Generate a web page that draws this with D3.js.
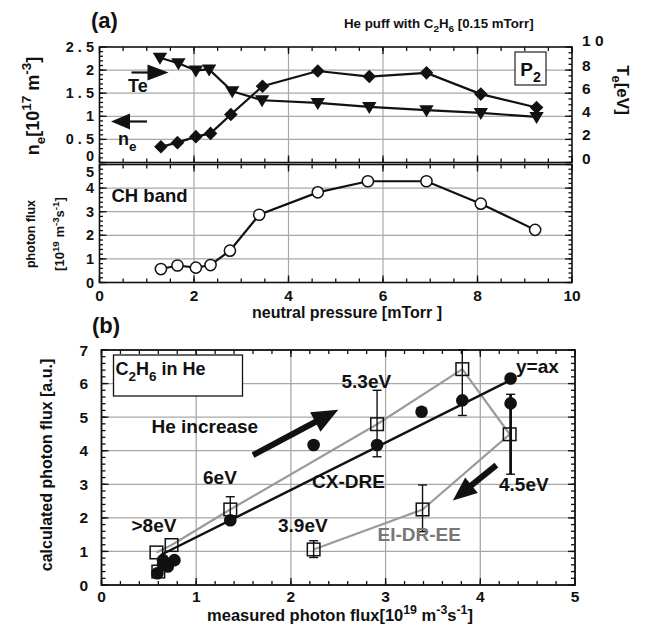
<!DOCTYPE html>
<html>
<head>
<meta charset="utf-8">
<script src="https://cdn.jsdelivr.net/npm/d3@7"></script>
<style>
  html, body { margin: 0; padding: 0; background: #fff; }
  svg { display: block; }
  text { font-family: "Liberation Sans", Arial, Helvetica, sans-serif; font-weight: bold; fill: #111; }
</style>
</head>
<body>
<svg id="chart" width="645" height="625"></svg>
<script>
// ---------------- DATA: panel (a) ----------------
const nePressure = [1.3, 1.65, 2.04, 2.35, 2.78, 3.45, 4.62, 5.71, 6.92, 8.07, 9.25];
const neValues   = [0.34, 0.43, 0.56, 0.63, 1.04, 1.65, 1.98, 1.86, 1.94, 1.48, 1.19];
const tePressure = [1.28, 1.67, 2.04, 2.32, 2.81, 3.44, 4.62, 5.71, 6.92, 8.07, 9.25];
const teValues   = [9.07, 8.6, 7.97, 8.06, 6.16, 5.39, 5.16, 4.81, 4.53, 4.29, 3.95];
const chPressure = [1.3, 1.65, 2.04, 2.35, 2.76, 3.38, 4.62, 5.68, 6.92, 8.07, 9.22];
const chFlux     = [0.57, 0.72, 0.63, 0.74, 1.35, 2.87, 3.82, 4.29, 4.29, 3.34, 2.23];

const xTicksA     = [0, 2, 4, 6, 8, 10];
const neTickVals  = [0, 0.5, 1, 1.5, 2, 2.5];
const neTickText  = ["0", "0 . 5", "1", "1 . 5", "2", "2 . 5"];
const teTickVals  = [0, 2, 4, 6, 8, 10];
const teTickText  = ["0", "2", "4", "6", "8", "1 0"];
const phTickVals  = [0, 1, 2, 3, 4, 5];

// ---------------- DATA: panel (b) ----------------
const cxMeasured = [0.59, 0.65, 0.65, 0.70, 0.77, 1.36, 2.24, 2.91, 3.38, 3.81, 4.32, 4.32];
const cxCalc     = [0.35, 0.60, 0.74, 0.55, 0.74, 1.93, 4.17, 4.17, 5.16, 5.50, 6.15, 5.41];
const eiMeasured = [0.60, 0.58, 0.74, 1.36, 2.91, 3.81, 4.31, 3.39, 2.24];
const eiCalc     = [0.40, 0.97, 1.19, 2.25, 4.79, 6.43, 4.49, 2.25, 1.06];
const eiPathX    = [0.58, 0.74, 1.36, 2.91, 3.81, 4.31, 3.39, 2.24];
const eiPathY    = [0.97, 1.19, 2.25, 4.79, 6.43, 4.49, 2.25, 1.06];
const fitX       = [0.63, 4.33];
const fitY       = [0.90, 6.12];
const errX       = [1.36, 2.91, 3.81, 4.32, 3.39, 2.24];
const errLo      = [1.95, 3.82, 5.05, 3.30, 1.59, 0.82];
const errHi      = [2.63, 5.80, 7.00, 5.68, 2.98, 1.32];
const errThick   = [false, false, false, true, false, false];
const xTicksB    = [0, 1, 2, 3, 4, 5];
const yTicksB    = [0, 1, 2, 3, 4, 5, 6, 7];

// ---------------- helpers ----------------
const svg = d3.select("#chart");

function rich(sel, str, fs) {
  const re = /(_|\^)\{([^}]*)\}|([^_^]+)/g;
  let m, off = 0;
  while ((m = re.exec(str)) !== null) {
    let txt, target, size;
    if (m[1]) {
      txt = m[2];
      target = m[1] === "_" ? fs * 0.32 : -fs * 0.42;
      size = fs * 0.75;
    } else {
      txt = m[3]; target = 0; size = fs;
    }
    sel.append("tspan").attr("dy", target - off).attr("font-size", size).text(txt);
    off = target;
  }
}

function label(x, y, str, fs, opts = {}) {
  const t = svg.append("text")
    .attr("font-size", fs)
    .attr("text-anchor", opts.anchor || "start");
  if (opts.rotate) {
    t.attr("transform", `translate(${x},${y}) rotate(${opts.rotate})`);
  } else {
    t.attr("x", x).attr("y", y);
  }
  if (opts.fill) t.style("fill", opts.fill);
  rich(t, str, fs);
  return t;
}

function hticks(scale, vals, y, len) {
  svg.append("g").selectAll("line").data(vals).join("line")
    .attr("x1", d => scale(d)).attr("x2", d => scale(d))
    .attr("y1", y).attr("y2", y + len)
    .attr("stroke", "#111").attr("stroke-width", 1.3);
}
function vticks(scale, vals, x, len) {
  svg.append("g").selectAll("line").data(vals).join("line")
    .attr("y1", d => scale(d)).attr("y2", d => scale(d))
    .attr("x1", x).attr("x2", x + len)
    .attr("stroke", "#111").attr("stroke-width", 1.3);
}
function range(a, b, s) { return d3.range(a, b + s / 2, s).map(v => +v.toFixed(4)); }

const GRID = "#a8a8a8";

// ---------------- PANEL (a) ----------------
const xA  = d3.scaleLinear([0, 10], [99.5, 572]);
const yNe = d3.scaleLinear([0, 2.5], [162.5, 47]);
const yTe = d3.scaleLinear([0, 10], [162.5, 47]);
const yPh = d3.scaleLinear([0, 5], [282.5, 164.5]);

// grids
const gA = svg.append("g");
gA.selectAll(".vg1").data([2, 4, 6, 8]).join("line")
  .attr("x1", d => xA(d)).attr("x2", d => xA(d)).attr("y1", yNe(2.5)).attr("y2", yNe(0))
  .attr("stroke", GRID).attr("stroke-width", 1.2);
gA.selectAll(".hg1").data([0.5, 1, 1.5, 2]).join("line")
  .attr("x1", xA(0)).attr("x2", xA(10)).attr("y1", d => yNe(d)).attr("y2", d => yNe(d))
  .attr("stroke", GRID).attr("stroke-width", 1.2);
gA.selectAll(".vg2").data([2, 4, 6, 8]).join("line")
  .attr("x1", d => xA(d)).attr("x2", d => xA(d)).attr("y1", yPh(5)).attr("y2", yPh(0))
  .attr("stroke", GRID).attr("stroke-width", 1.2);
gA.selectAll(".hg2").data([1, 2, 3, 4]).join("line")
  .attr("x1", xA(0)).attr("x2", xA(10)).attr("y1", d => yPh(d)).attr("y2", d => yPh(d))
  .attr("stroke", GRID).attr("stroke-width", 1.2);

// ticks
const xMinorA = range(0, 10, 0.5);
[yNe(2.5), yPh(5)].forEach(y => { hticks(xA, xMinorA, y, 4); hticks(xA, xTicksA, y, 7); });
[yNe(0), yPh(0)].forEach(y => { hticks(xA, xMinorA, y, -4); hticks(xA, xTicksA, y, -7); });
vticks(yNe, range(0, 2.5, 0.1), xA(0), 3.5);
vticks(yNe, neTickVals, xA(0), 7);
vticks(yTe, range(0, 10, 0.5), xA(10), -3.5);
vticks(yTe, teTickVals, xA(10), -7);
vticks(yPh, range(0, 5, 0.2), xA(0), 3.5);
vticks(yPh, phTickVals, xA(0), 7);
vticks(yPh, range(0, 5, 0.2), xA(10), -3.5);
vticks(yPh, phTickVals, xA(10), -7);

// frames
svg.append("rect").attr("x", xA(0)).attr("y", yNe(2.5)).attr("width", xA(10) - xA(0)).attr("height", yNe(0) - yNe(2.5))
  .attr("fill", "none").attr("stroke", "#111").attr("stroke-width", 1.6);
svg.append("rect").attr("x", xA(0)).attr("y", yPh(5)).attr("width", xA(10) - xA(0)).attr("height", yPh(0) - yPh(5))
  .attr("fill", "none").attr("stroke", "#111").attr("stroke-width", 1.6);

// lines
const neData = nePressure.map((p, i) => [p, neValues[i]]);
const teData = tePressure.map((p, i) => [p, teValues[i]]);
const chData = chPressure.map((p, i) => [p, chFlux[i]]);
svg.append("path").datum(neData).attr("fill", "none").attr("stroke", "#111").attr("stroke-width", 2.2)
  .attr("d", d3.line().x(d => xA(d[0])).y(d => yNe(d[1])));
svg.append("path").datum(teData).attr("fill", "none").attr("stroke", "#111").attr("stroke-width", 2.2)
  .attr("d", d3.line().x(d => xA(d[0])).y(d => yTe(d[1])));
svg.append("path").datum(chData).attr("fill", "none").attr("stroke", "#111").attr("stroke-width", 2.2)
  .attr("d", d3.line().x(d => xA(d[0])).y(d => yPh(d[1])));

// markers
svg.append("g").selectAll("path").data(neData).join("path")
  .attr("transform", d => `translate(${xA(d[0])},${yNe(d[1])})`)
  .attr("d", "M0,-6.8L6.8,0L0,6.8L-6.8,0Z").attr("fill", "#111");
svg.append("g").selectAll("path").data(teData).join("path")
  .attr("transform", d => `translate(${xA(d[0])},${yTe(d[1])})`)
  .attr("d", "M-7.2,-5L7.2,-5L0,7Z").attr("fill", "#111");
svg.append("g").selectAll("circle").data(chData).join("circle")
  .attr("cx", d => xA(d[0])).attr("cy", d => yPh(d[1])).attr("r", 5.6)
  .attr("fill", "#fff").attr("stroke", "#111").attr("stroke-width", 1.5);

// tick labels (a)
neTickVals.forEach((v, i) => {
  let y = yNe(v) + 5;
  if (v === 0) y = yNe(0) - 1.5;
  label(94, y, neTickText[i], 14.5, { anchor: "end" });
});
teTickVals.forEach((v, i) => {
  let y = yTe(v) + 1;
  if (v === 10) y -= 2;
  label(582, y, teTickText[i], 15.5);
});
phTickVals.forEach(v => {
  let y = yPh(v) + 5;
  if (v === 5) y = yPh(5) + 12.5;
  label(94, y, String(v), 14.5, { anchor: "end" });
});
xTicksA.forEach(v => label(xA(v), 300.5, String(v), 15.5, { anchor: "middle" }));

// titles (a)
label(91, 28, "(a)", 22);
label(344, 28, "He puff with C_{2}H_{6}  [0.15 mTorr]", 13.3);
label(347, 318, "neutral pressure [mTorr ]", 16, { anchor: "middle" });
label(39, 106, "n_{e}[10^{17} m^{-3}]", 18, { anchor: "middle", rotate: -90 });
label(617, 90, "T_{e}[eV]", 17, { anchor: "middle", rotate: 90 });
label(35, 234, "photon flux", 12.5, { anchor: "middle", rotate: -90 });
label(64, 234, "[10^{19} m^{-3}s^{-1}]", 13, { anchor: "middle", rotate: -90 });
label(111.5, 202, "CH band", 18.5);
label(128, 92, "Te", 18);
label(118, 145, "n_{e}", 18);

// P2 box
svg.append("rect").attr("x", 515).attr("y", 52).attr("width", 31).attr("height", 33)
  .attr("fill", "#fff").attr("stroke", "#333").attr("stroke-width", 1.3);
label(530.5, 76, "P_{2}", 19, { anchor: "middle" });

// arrows
function arrow(x1, y1, x2, y2, shaft, headL, headW, color) {
  const ang = Math.atan2(y2 - y1, x2 - x1);
  const len = Math.hypot(x2 - x1, y2 - y1);
  const g = svg.append("g").attr("transform", `translate(${x1},${y1}) rotate(${ang * 180 / Math.PI})`);
  g.append("line").attr("x1", 0).attr("y1", 0).attr("x2", len - headL + 1).attr("y2", 0)
    .attr("stroke", color).attr("stroke-width", shaft);
  g.append("path").attr("d", `M${len},0L${len - headL},${-headW / 2}L${len - headL},${headW / 2}Z`).attr("fill", color);
}
arrow(131.5, 72.5, 168.5, 72.5, 2.2, 21, 16, "#111");
arrow(147, 121.5, 111, 121.5, 2.2, 19, 16, "#111");

// ---------------- PANEL (b) ----------------
const xB = d3.scaleLinear([0, 5], [101.5, 575]);
const yB = d3.scaleLinear([0, 7], [585, 350]);

const gB = svg.append("g");
gB.selectAll(".vg").data([1, 2, 3, 4]).join("line")
  .attr("x1", d => xB(d)).attr("x2", d => xB(d)).attr("y1", yB(7)).attr("y2", yB(0))
  .attr("stroke", GRID).attr("stroke-width", 1.3);
gB.selectAll(".hg").data([1, 2, 3, 4, 5, 6]).join("line")
  .attr("x1", xB(0)).attr("x2", xB(5)).attr("y1", d => yB(d)).attr("y2", d => yB(d))
  .attr("stroke", GRID).attr("stroke-width", 1.3);

const xMinorB = range(0, 5, 0.2);
const yMinorB = range(0, 7, 0.2);
hticks(xB, xMinorB, yB(0), -4); hticks(xB, xTicksB, yB(0), -7);
hticks(xB, xMinorB, yB(7), 4); hticks(xB, xTicksB, yB(7), 7);
vticks(yB, yMinorB, xB(0), 4); vticks(yB, yTicksB, xB(0), 7);
vticks(yB, yMinorB, xB(5), -4); vticks(yB, yTicksB, xB(5), -7);

svg.append("rect").attr("x", xB(0)).attr("y", yB(7)).attr("width", xB(5) - xB(0)).attr("height", yB(0) - yB(7))
  .attr("fill", "none").attr("stroke", "#111").attr("stroke-width", 1.8);

// gray EI-DR-EE path
const eiPath = eiPathX.map((x, i) => [x, eiPathY[i]]);
svg.append("path").datum(eiPath).attr("fill", "none").attr("stroke", "#9a9a9a").attr("stroke-width", 2.2)
  .attr("d", d3.line().x(d => xB(d[0])).y(d => yB(d[1])));

// y = ax line
const fit = fitX.map((x, i) => [x, fitY[i]]);
svg.append("path").datum(fit).attr("fill", "none").attr("stroke", "#111").attr("stroke-width", 2.4)
  .attr("d", d3.line().x(d => xB(d[0])).y(d => yB(d[1])));

// error bars
errX.forEach((x, i) => {
  const sw = errThick[i] ? 2.8 : 1.4;
  const g = svg.append("g").attr("stroke", "#111");
  g.append("line").attr("x1", xB(x)).attr("x2", xB(x)).attr("y1", yB(errLo[i])).attr("y2", yB(errHi[i])).attr("stroke-width", sw);
  [errLo[i], errHi[i]].forEach(v => {
    g.append("line").attr("x1", xB(x) - 4.5).attr("x2", xB(x) + 4.5).attr("y1", yB(v)).attr("y2", yB(v)).attr("stroke-width", 1.4);
  });
});

// filled circles
svg.append("g").selectAll("circle").data(cxMeasured.map((x, i) => [x, cxCalc[i]])).join("circle")
  .attr("cx", d => xB(d[0])).attr("cy", d => yB(d[1])).attr("r", 6.3).attr("fill", "#111");

// open squares
svg.append("g").selectAll("rect").data(eiMeasured.map((x, i) => [x, eiCalc[i]])).join("rect")
  .attr("x", d => xB(d[0]) - 6.3).attr("y", d => yB(d[1]) - 6.3).attr("width", 12.6).attr("height", 12.6)
  .attr("fill", "none").attr("stroke", "#111").attr("stroke-width", 1.5);

// big arrows
arrow(xB(1.6), yB(3.87), xB(2.5), yB(5.22), 6, 26, 22, "#111");
arrow(xB(4.17), yB(3.57), xB(3.71), yB(2.52), 6, 24, 20, "#111");

// tick labels (b)
yTicksB.forEach(v => label(88, yB(v) + 5.5, String(v), 15.5, { anchor: "end" }));
xTicksB.forEach(v => label(xB(v), 602, String(v), 15.5, { anchor: "middle" }));

// titles (b)
label(92, 333, "(b)", 22);
label(340, 620.5, "measured photon flux[10^{19}  m^{-3}s^{-1}]", 16.5, { anchor: "middle" });
label(52, 465, "calculated photon flux [a.u.]", 16, { anchor: "middle", rotate: -90 });

// C2H6 in He box
svg.append("rect").attr("x", 113.5).attr("y", 355).attr("width", 129).attr("height", 41)
  .attr("fill", "#fff").attr("stroke", "#111").attr("stroke-width", 1.3);
label(115.5, 375, "C_{2}H_{6} in He", 18);

label(151.5, 433, "He increase", 19);
label(341.5, 388, "5.3eV", 19);
label(516, 373, "y=ax", 19);
label(312, 488, "CX-DRE", 19);
label(499, 491, "4.5eV", 19);
label(377.5, 541, "EI-DR-EE", 19, { fill: "#777" });
label(203, 483.5, "6eV", 19);
label(131.5, 532, ">8eV", 19);
label(278, 532, "3.9eV", 19);
</script>
</body>
</html>
